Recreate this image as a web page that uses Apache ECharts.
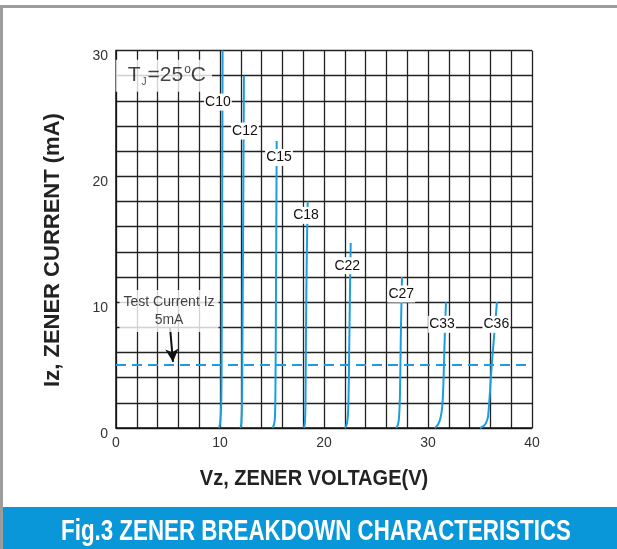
<!DOCTYPE html>
<html>
<head>
<meta charset="utf-8">
<script src="https://cdn.jsdelivr.net/npm/echarts@6/dist/echarts.min.js"></script>
<style>html,body{margin:0;padding:0;background:#fff;}#c{width:617px;height:549px;}</style>
</head>
<body>
<div id="c"></div>
<script>
// ---- data ----
const xTicks = [0, 10, 20, 30, 40];      // Vz (V)
const yTicks = [0, 10, 20, 30];          // Iz (mA)
const c10 = [[9.93,0],[10.04,0.6],[10.12,2],[10.16,6],[10.2,15],[10.25,30]];
const c12 = [[11.98,0],[12.06,0.5],[12.12,2],[12.15,6],[12.22,15],[12.3,28]];
const c15 = [[15.05,0],[15.2,0.3],[15.28,0.8],[15.33,3],[15.38,10],[15.45,22.8]];
const c18 = [[18.08,0],[18.17,0.5],[18.22,2],[18.27,8],[18.35,14],[18.43,18]];
const c22 = [[22.0,0],[22.15,0.2],[22.27,0.7],[22.35,2],[22.42,6],[22.5,11],[22.57,14.7]];
const c27 = [[26.95,0],[27.12,0.3],[27.22,0.9],[27.3,2.5],[27.38,7],[27.5,12]];
const c33 = [[30.65,0],[30.95,0.25],[31.2,0.8],[31.38,1.8],[31.5,4],[31.6,7],[31.73,10]];
const c36 = [[35.0,0],[35.35,0.15],[35.6,0.45],[35.78,0.95],[36.13,5],[36.63,10]];
const curveNames = ['C10','C12','C15','C18','C22','C27','C33','C36'];
const curves = [c10, c12, c15, c18, c22, c27, c33, c36];
// label anchor points [V, mA, text]
const curveLabels = [[9.8,25.9,'C10'],[12.4,23.6,'C12'],[15.67,21.5,'C15'],[18.27,16.9,'C18'],
                     [22.24,12.9,'C22'],[27.43,10.65,'C27'],[31.35,8.24,'C33'],[36.57,8.24,'C36']];
const testCurrent = 5;                   // mA
const testLabelPos = [[5.1, 9.3, 'Test Current Iz\n5mA']];
const arrowFrom = [5.2, 7.95], arrowTo = [5.48, 5.25];
const tjLabelPos = [[4.6, 28.0]];

const BLUE = '#1b9de0';
const SANS = '"Liberation Sans", Arial, Helvetica, sans-serif';
const chart = echarts.init(document.getElementById('c'), null, {renderer: 'canvas'});

const series = curves.map((d, i) => ({
  name: curveNames[i], type: 'line', data: d, smooth: 0.35, showSymbol: false, symbol: 'none',
  lineStyle: {color: BLUE, width: 2}, z: 3, clip: true
}));
series.push({
  type: 'scatter', data: curveLabels, symbolSize: 0, z: 5, itemStyle: {opacity: 1},
  label: {show: true, position: 'inside', formatter: p => p.data[2], color: '#111',
          textBorderWidth: 0, textBorderColor: 'transparent',
          fontFamily: SANS, fontSize: 14, backgroundColor: '#fff', padding: [2, 1, 1, 1]}
});
series.push({
  type: 'scatter', data: testLabelPos, symbolSize: 0, z: 5,
  label: {show: true, position: 'inside', formatter: p => p.data[2], color: '#111', align: 'center',
          textBorderWidth: 0, textBorderColor: 'transparent',
          fontFamily: SANS, fontSize: 14, lineHeight: 18, backgroundColor: '#fff', padding: [3, 4, 3, 4]}
});
series.push({
  type: 'scatter', data: tjLabelPos, symbolSize: 0, z: 5,
  label: {show: true, position: 'inside', backgroundColor: '#fff', padding: [3, 6, 3, 12],
    textBorderWidth: 0, textBorderColor: 'transparent',
    formatter: '{t|T}{s|J}{t|=25}{o|o}{t|C}',
    rich: {
      t: {fontFamily: SANS, fontSize: 21, color: '#111', lineHeight: 26, textBorderWidth: 0},
      s: {fontFamily: SANS, fontSize: 10, color: '#111', padding: [13, 1, 0, 1], lineHeight: 26, textBorderWidth: 0},
      o: {fontFamily: SANS, fontSize: 12, color: '#111', padding: [0, 0, 11, 1], lineHeight: 26, textBorderWidth: 0}
    }}
});
series.push({
  type: 'line', data: [], z: 4,
  markLine: {
    silent: true, animation: false,
    data: [
      [{coord: [0, testCurrent], symbol: 'none', lineStyle: {color: BLUE, width: 2, type: [10, 6]}},
       {coord: [40, testCurrent], symbol: 'none'}],
      [{coord: arrowFrom, symbol: 'none', lineStyle: {color: '#111', width: 2, type: 'solid'}},
       {coord: arrowTo, symbol: 'arrow', symbolSize: [10, 13]}]
    ],
    label: {show: false}
  }
});

chart.setOption({
  animation: false,
  grid: {left: 116, right: 85, top: 50.5, bottom: 121},
  graphic: [
    {type: 'rect', left: 0, bottom: 0, shape: {width: 617, height: 42}, style: {fill: '#0a97d9'}, z: -1},
    {type: 'rect', left: 0, top: 5, shape: {width: 617, height: 3}, style: {fill: '#9c9c9c'}},
    {type: 'rect', left: 0, top: 5, shape: {width: 3, height: 544}, style: {fill: '#9c9c9c'}},
    {type: 'text', x: 316, y: 532, scaleX: 0.77, z: 10,
     style: {text: 'Fig.3 ZENER BREAKDOWN CHARACTERISTICS', fill: '#fff',
             font: 'bold 29px "Liberation Sans", Arial, sans-serif', textAlign: 'center', textVerticalAlign: 'middle'}},
    {type: 'text', x: 314, y: 479, scaleX: 0.91, z: 10,
     style: {text: 'Vz, ZENER VOLTAGE(V)', fill: '#222',
             font: 'bold 22px "Liberation Sans", Arial, sans-serif', textAlign: 'center', textVerticalAlign: 'middle'}},
    {type: 'text', x: 53, y: 250, rotation: Math.PI / 2, z: 10,
     style: {text: 'Iz, ZENER CURRENT (mA)', fill: '#222',
             font: 'bold 22px "Liberation Sans", Arial, sans-serif', textAlign: 'center', textVerticalAlign: 'middle'}}
  ],
  xAxis: {
    type: 'value', min: 0, max: 40, interval: 2,
    axisLine: {show: true, lineStyle: {color: '#111', width: 1.5}},
    axisTick: {show: false},
    axisLabel: {formatter: v => xTicks.includes(v) ? String(v) : '', margin: 8, color: '#333',
                fontFamily: SANS, fontSize: 14},
    splitLine: {show: true, lineStyle: {color: '#222', width: 1.3}}
  },
  yAxis: {
    type: 'value', min: 0, max: 30, interval: 2,
    axisLine: {show: true, lineStyle: {color: '#111', width: 1.5}},
    axisTick: {show: false},
    axisLabel: {formatter: v => yTicks.includes(v) ? String(v) : '', margin: 8, color: '#333',
                fontFamily: SANS, fontSize: 14, verticalAlign: 'top', lineHeight: 12},
    splitLine: {show: true, lineStyle: {color: '#222', width: 1.3}}
  },
  series: series
});
</script>
</body>
</html>
